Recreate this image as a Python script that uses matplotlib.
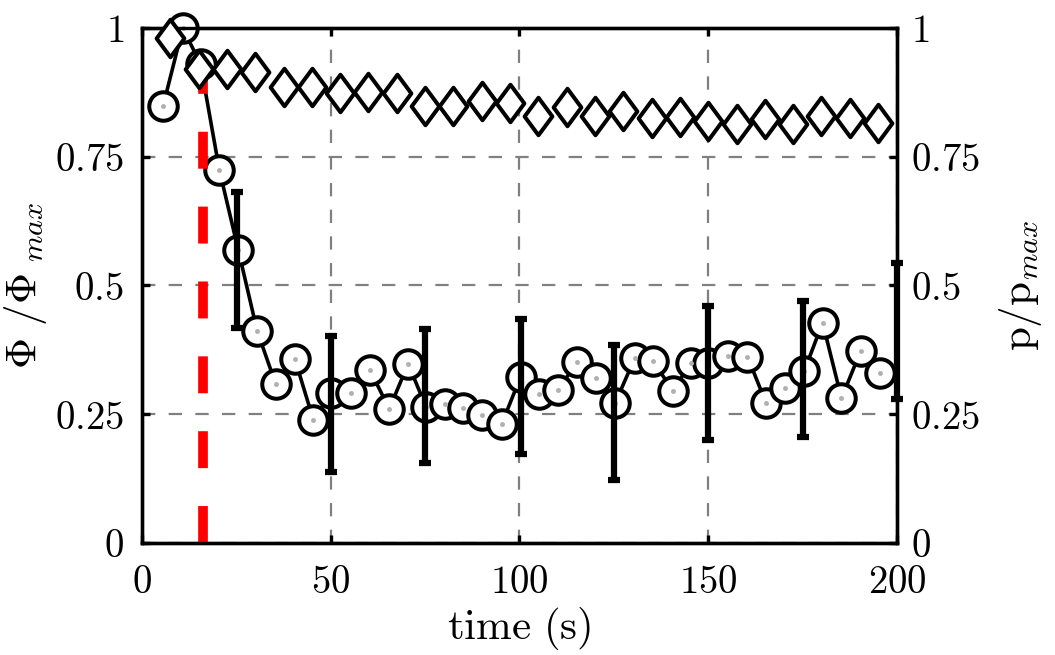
import matplotlib
matplotlib.use('Agg')
import matplotlib.pyplot as plt
from matplotlib.path import Path
from matplotlib.ticker import FixedLocator, FuncFormatter

plt.rcParams['mathtext.fontset'] = 'cm'
plt.rcParams['font.family'] = 'serif'
plt.rcParams['font.serif'] = ['DejaVu Serif']

# circles: Phi/Phi_max
phi_t = [5.6, 10.8, 15.5, 20.5, 25.5, 30.5, 35.4, 40.5, 45.4, 50.2,
         55.3, 60.4, 65.5, 70.5, 75.2, 80.3, 85.1, 90.2, 95.3, 100.3,
         105.2, 110.3, 115.3, 120.3, 125.3, 130.6, 135.4, 140.6, 145.4, 150.0,
         155.3, 160.4, 165.3, 170.3, 175.4, 180.3, 185.3, 190.4, 195.5]
phi = [0.849, 1.0, 0.93, 0.724, 0.569, 0.412, 0.309, 0.357, 0.239, 0.292,
       0.291, 0.336, 0.260, 0.348, 0.265, 0.270, 0.263, 0.249, 0.231, 0.323,
       0.289, 0.298, 0.352, 0.321, 0.271, 0.360, 0.353, 0.296, 0.350, 0.349,
       0.363, 0.362, 0.272, 0.300, 0.333, 0.428, 0.281, 0.373, 0.330]

# error bars
err_t = [25.1, 50, 75, 100.3, 125, 150, 175.2, 200]
err_low = [0.418, 0.138, 0.155, 0.172, 0.122, 0.200, 0.206, 0.280]
err_high = [0.682, 0.402, 0.416, 0.435, 0.384, 0.461, 0.469, 0.544]

# diamonds: p/p_max
p_t = [7.5, 15, 22.5, 30, 37.5, 45, 52.5, 60, 67.5, 75, 82.5, 90, 97.5,
       105, 112.5, 120, 127.5, 135, 142.5, 150, 157.5, 165, 172.5, 180, 187.5, 195]
p = [0.980, 0.920, 0.920, 0.915, 0.885, 0.885, 0.873, 0.875, 0.873, 0.849, 0.849, 0.858, 0.855,
     0.829, 0.847, 0.829, 0.839, 0.826, 0.828, 0.820, 0.814, 0.823, 0.814, 0.829, 0.825, 0.815]

t_event = 16.1

ticks_x = [0, 50, 100, 150, 200]
ticks_y = [0, 0.25, 0.5, 0.75, 1]
labels_y = ['0', '0.25', '0.5', '0.75', '1']

fig = plt.figure(figsize=(10.55, 6.55), dpi=100)
ax = fig.add_axes([0.1346, 0.1710, 0.8502 - 0.1346, 0.9573 - 0.1710])
ax2 = ax.twinx()

ax.set_xlim(0, 200)
ax.set_ylim(0, 1)
ax2.set_ylim(0, 1)

ax.set_axisbelow(True)
ax.grid(True, color='#808080', lw=1.6, linestyle=(0, (6, 6)))

# circles
ax.plot(phi_t, phi, '-', color='black', lw=2.6, marker='o', ms=20.5,
        mfc='white', mec='black', mew=2.9, clip_on=False, zorder=3)
ax.plot(phi_t, phi, 'o', color='#b0b0b0', ms=2.5, clip_on=False, zorder=3.1)

# error bars
mid = [(lo + hi) / 2 for lo, hi in zip(err_low, err_high)]
half = [(hi - lo) / 2 for lo, hi in zip(err_low, err_high)]
ax.errorbar(err_t, mid, yerr=half, fmt='none', ecolor='black', elinewidth=4.5,
            capsize=4.5, capthick=4.5, clip_on=False, zorder=4)

# red event line
ax.plot([t_event, t_event], [0, 0.93], color='red', lw=7,
        linestyle=(0, (3.8, 3.9)), dash_capstyle='butt', zorder=5)

# tall diamonds on right axis
diamond = Path([(0, 1), (0.74, 0), (0, -1), (-0.74, 0), (0, 1)],
               [Path.MOVETO, Path.LINETO, Path.LINETO, Path.LINETO, Path.CLOSEPOLY])
ax2.plot(p_t, p, linestyle='none', marker=diamond, ms=27, mfc='white',
         mec='black', mew=2.9, clip_on=False, zorder=6)

fmt = FuncFormatter(lambda v, pos: r'$\mathrm{%s}$' % labels_y[ticks_y.index(v)]
                    if v in ticks_y else '')
for a in (ax, ax2):
    a.yaxis.set_major_locator(FixedLocator(ticks_y))
    a.yaxis.set_major_formatter(fmt)
    for s in a.spines.values():
        s.set_linewidth(2.4)
ax.xaxis.set_major_locator(FixedLocator(ticks_x))
ax.xaxis.set_major_formatter(FuncFormatter(lambda v, pos: r'$\mathrm{%d}$' % v))

ax.tick_params(axis='both', direction='in', length=6, width=2.4, labelsize=28,
               top=True, right=False, pad=15)
ax.tick_params(axis='y', pad=13)
ax2.tick_params(axis='y', direction='in', length=6, width=2.4, labelsize=28, pad=10)

ax.set_xlabel(r'$\mathrm{time\ (s)}$', fontsize=31, labelpad=3)
ax.set_ylabel(r'$\Phi\ /\Phi_{\ max}$', fontsize=31, labelpad=4)
ax2.set_ylabel(r'$\mathrm{p/p}_{max}$', fontsize=31, labelpad=12)

ax2.set_zorder(ax.get_zorder() + 1)
ax2.patch.set_visible(False)

fig.savefig('out.png', dpi=100)
